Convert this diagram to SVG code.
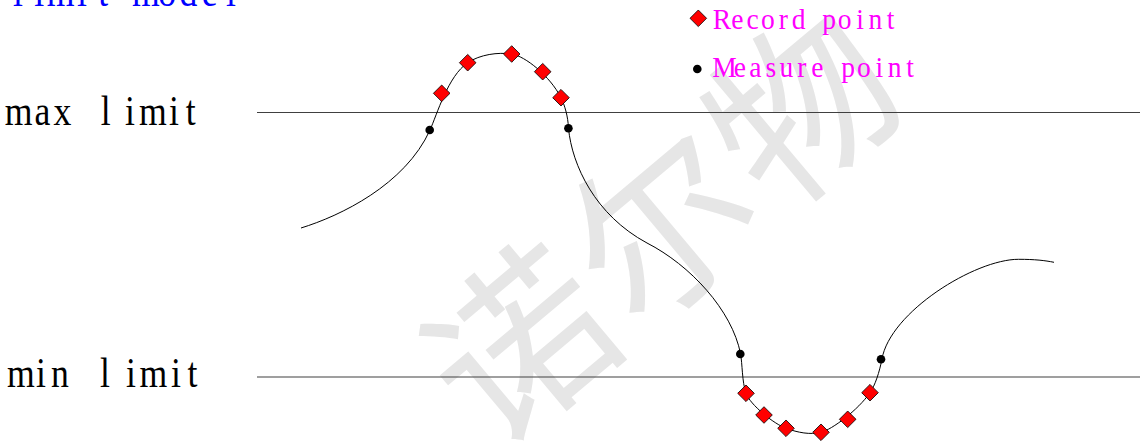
<svg xmlns="http://www.w3.org/2000/svg" width="1144" height="445" viewBox="0 0 1144 445">
<style>
.lbl{font-family:"Liberation Serif","DejaVu Serif",serif;fill:#000;font-size:42px}
.leg{font-family:"Liberation Serif","DejaVu Serif",serif;fill:#ff00ff;font-size:29px}
.title{font-family:"Liberation Serif","DejaVu Serif",serif;fill:#0000ff;font-size:42px}
.wm{font-family:"Noto Sans CJK SC",sans-serif;font-weight:400;fill:#e6e6e6;font-size:180px}
.limit{stroke:#404040;stroke-width:1.2;fill:none}
.curve{stroke:#000;stroke-width:1;fill:none}
.rec{fill:#ff0000;stroke:#000;stroke-width:0.8}
.mea{fill:#000}
</style>
<defs>
<polygon id="dia" class="rec" points="0,-8.3 8.3,0 0,8.3 -8.3,0"/>
</defs>
<rect width="1144" height="445" fill="#fff"/>
<g id="watermark">
<text class="wm" transform="translate(666,228) rotate(-40)" x="0" y="62" text-anchor="middle" letter-spacing="4">诺尔物</text>
</g>
<g id="title"><text class="title" transform="matrix(0.85,0,0,1,0,6)" x="15.34 40.4 54.95 90.51 115.57 141.22 155.19 186.09 211.15 237.39 265.92" y="0">limit model</text></g>
<g id="max-limit">
<text class="lbl" transform="matrix(0.85,0,0,1,0,125)" x="5.66 40.68 63 93.55 118.66 147.06 163.66 198.86 218.66" y="0">max limit</text>
<line class="limit" x1="257" y1="112.5" x2="1140" y2="112.5"/>
</g>
<g id="min-limit">
<text class="lbl" transform="matrix(0.85,0,0,1,0,387)" x="8.13 42.4 60.09 91.81 117.69 148.28 164.01 201.22 220.63" y="0">min limit</text>
<line class="limit" x1="257" y1="377" x2="1140" y2="377"/>
</g>
<g id="connectors">
<path class="curve" d="M301,228 C340,216 405,185 430,130 C437,114.6 448,76 467.7,62.7 C480,54.5 498,52 511.7,54 C525,56 550,76 561,97.7 C564.5,104.7 568,116 568.5,128.3 C572,165 595,215 647,243 C690,265 732,310 740.6,354 C742.3,363 742,382 746,393.3 C750,404.6 774,424 786,428.3 C798,432.6 810,435 821,432.3 C832,429.6 858,410 870,392.7 C875,385.5 879.5,372 881.9,359.3 C890,312 975,259.3 1018.5,259.3 C1035,259.3 1045,260.5 1054,262.3"/>
</g>
<g id="record-points">
<use href="#dia" x="441.7" y="93.3"/>
<use href="#dia" x="467.7" y="62.7"/>
<use href="#dia" x="511.7" y="54"/>
<use href="#dia" x="542.7" y="71.7"/>
<use href="#dia" x="561" y="97.7"/>
<use href="#dia" x="746" y="393.3"/>
<use href="#dia" x="764" y="415"/>
<use href="#dia" x="786" y="428.3"/>
<use href="#dia" x="821" y="432.3"/>
<use href="#dia" x="847.7" y="419.3"/>
<use href="#dia" x="870" y="392.7"/>
</g>
<g id="measure-points">
<circle class="mea" cx="429.7" cy="130" r="4.3"/>
<circle class="mea" cx="568.4" cy="128.3" r="4.3"/>
<circle class="mea" cx="740.3" cy="354" r="4.3"/>
<circle class="mea" cx="881" cy="359.3" r="4.3"/>
</g>
<g id="legend">
<use href="#dia" x="698.3" y="18.3"/>
<text class="leg" transform="matrix(0.95,0,0,1,0,29.3)" x="750.33 769.66 785.76 801.15 819.67 833.35 853.17 865.65 881.85 901.27 914.15 933.47" y="0">Record point</text>
<circle class="mea" cx="697.3" cy="69" r="4.3"/>
<text class="leg" transform="matrix(0.95,0,0,1,0,77.3)" x="749.61 772.36 788.76 805.86 820.55 839.17 853.86 872.97 885.65 902.05 921.47 934.55 954.07" y="0">Measure point</text>
</g>
</svg>
